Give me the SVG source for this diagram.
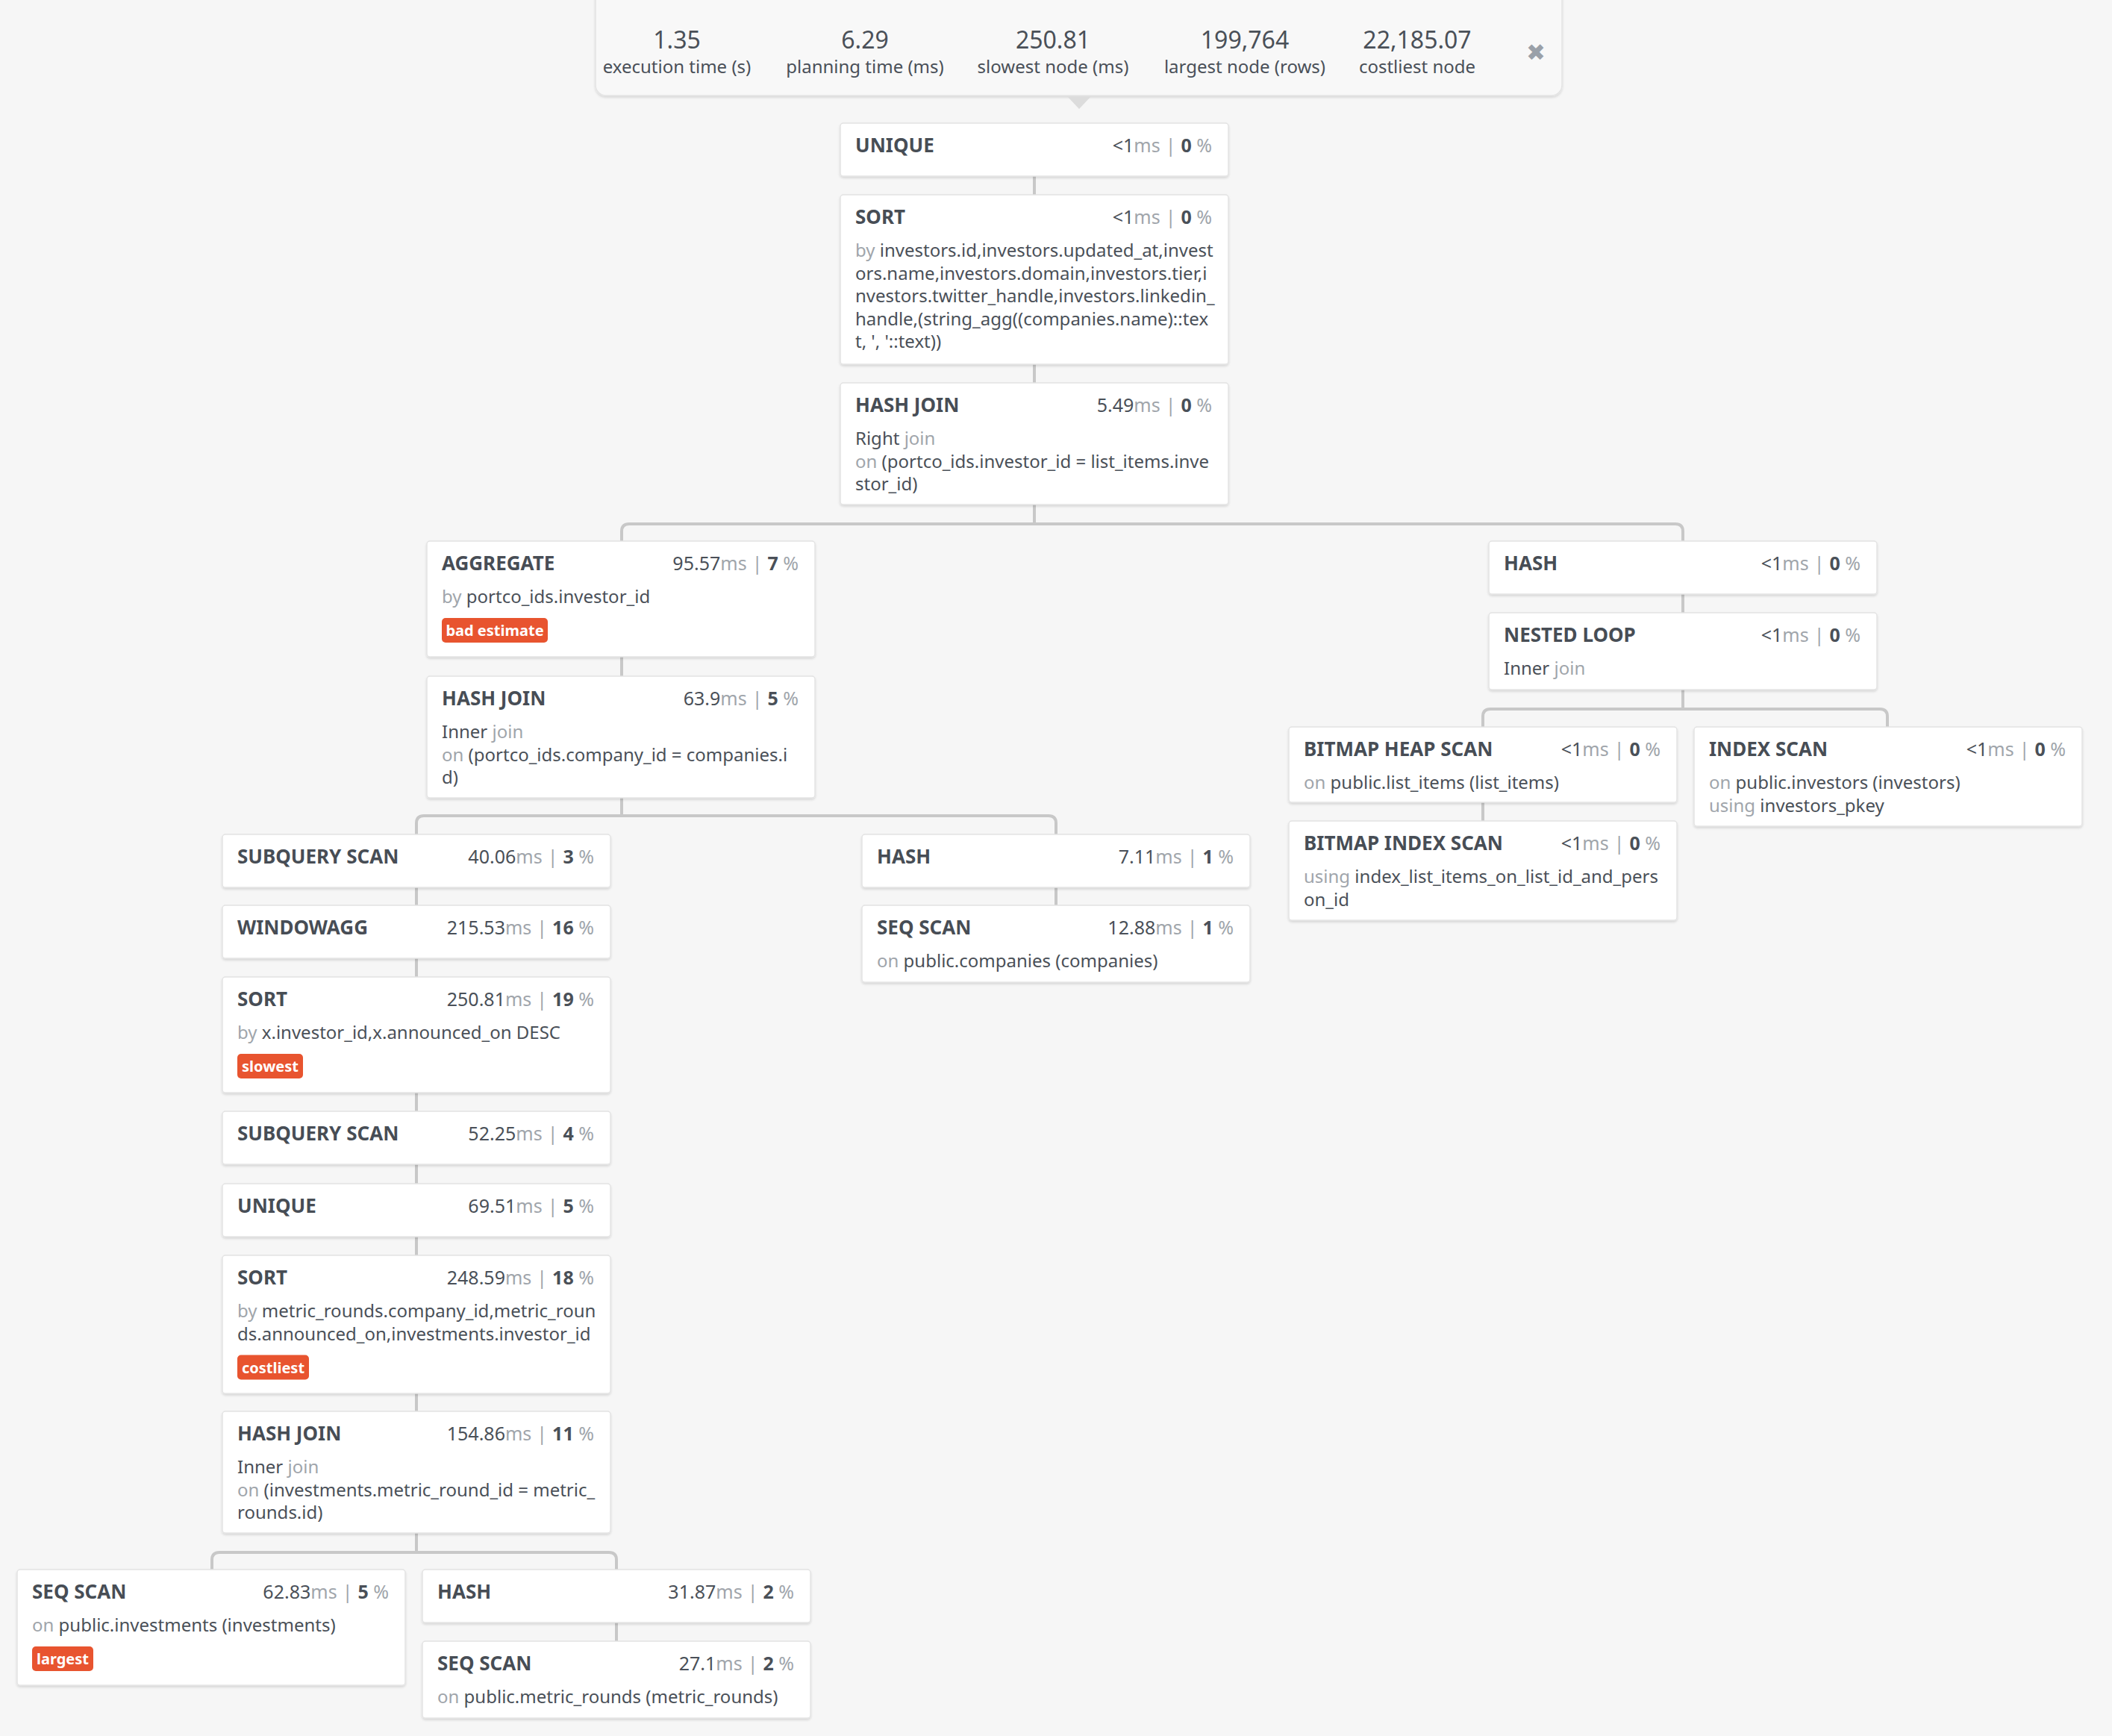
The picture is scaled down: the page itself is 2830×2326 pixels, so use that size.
<svg xmlns="http://www.w3.org/2000/svg" width="2830" height="2326" viewBox="0 0 2830 2326">
<defs>
<filter id="sh" x="-3%" y="-5%" width="106%" height="115%">
<feDropShadow dx="0" dy="2" stdDeviation="1.5" flood-color="#000" flood-opacity="0.13"/>
</filter>
<style>
.bx{fill:#fff;stroke:#e3e3e3;stroke-width:1.5;filter:url(#sh)}
.t{font-family:'Noto Sans',sans-serif;font-weight:bold;font-size:26px;fill:#474d55}
.d{font-family:'Noto Sans',sans-serif;font-size:24px;fill:#4a5058}
.s{font-family:'Noto Sans',sans-serif;font-size:25px;fill:#4a5058;text-anchor:end}
.g{fill:#a0a5ab}
.b{font-weight:bold}
.bg{fill:#e8542f}
.bt{font-family:'Noto Sans',sans-serif;font-weight:bold;font-size:20px;fill:#fff;text-anchor:middle}
.hn{font-family:'Noto Sans',sans-serif;font-size:32px;fill:#4a5058;text-anchor:middle}
.hl{font-family:'Noto Sans',sans-serif;font-size:24px;fill:#4a5058;text-anchor:middle}
.c{fill:none;stroke:#c8c8c8;stroke-width:4}
</style>
</defs>
<rect width="2830" height="2326" fill="#f6f6f6"/>

<g id="summary">
<rect x="798" y="-20" width="1295" height="148" rx="14" fill="#f8f8f8" stroke="#e4e4e4" stroke-width="1.5" filter="url(#sh)"/>
<polygon points="1430,129 1462,129 1446,146" fill="#dcdcdc"/>
<text class="hn" x="907" y="65">1.35</text>
<text class="hl" x="907" y="98">execution time (s)</text>
<text class="hn" x="1159" y="65">6.29</text>
<text class="hl" x="1159" y="98">planning time (ms)</text>
<text class="hn" x="1411" y="65">250.81</text>
<text class="hl" x="1411" y="98">slowest node (ms)</text>
<text class="hn" x="1668" y="65">199,764</text>
<text class="hl" x="1668" y="98">largest node (rows)</text>
<text class="hn" x="1899" y="65">22,185.07</text>
<text class="hl" x="1899" y="98">costliest node</text>
<text x="2058" y="81" font-family="'DejaVu Sans',sans-serif" font-size="31" fill="#9aa0a8" text-anchor="middle">✖</text>
</g>

<g id="connectors">
<path class="c" d="M1386,236V261M1386,488V513M1386,676V702"/>
<path class="c" d="M833,725V712Q833,702 843,702H2245Q2255,702 2255,712V725"/>
<path class="c" d="M833,880V906M833,1069V1093"/>
<path class="c" d="M558,1118V1103Q558,1093 568,1093H1405Q1415,1093 1415,1103V1118"/>
<path class="c" d="M558,1189V1213M558,1284V1309M558,1464V1489M558,1560V1586M558,1657V1682M558,1867V1891M558,2054V2080"/>
<path class="c" d="M284,2103V2090Q284,2080 294,2080H816Q826,2080 826,2090V2103"/>
<path class="c" d="M826,2174V2199"/>
<path class="c" d="M1415,1189V1213"/>
<path class="c" d="M2255,796V821M2255,924V950"/>
<path class="c" d="M1987,974V960Q1987,950 1997,950H2519Q2529,950 2529,960V974"/>
<path class="c" d="M1987,1075V1100"/>
</g>

<g id="n-unique-1" transform="translate(1126,165)">
<rect class="bx" width="520" height="71" rx="4"/>
<text class="t" x="20" y="39">UNIQUE</text>
<text class="s" x="498" y="39">&lt;1<tspan class="g">ms</tspan><tspan class="g" dx="7">|</tspan><tspan class="b" dx="7">0</tspan><tspan class="g"> %</tspan></text>
</g>

<g id="n-sort-1" transform="translate(1126,261)">
<rect class="bx" width="520" height="227" rx="4"/>
<text class="t" x="20" y="39">SORT</text>
<text class="s" x="498" y="39">&lt;1<tspan class="g">ms</tspan><tspan class="g" dx="7">|</tspan><tspan class="b" dx="7">0</tspan><tspan class="g"> %</tspan></text>
<text class="d" x="20" y="83"><tspan class="g">by</tspan> investors.id,investors.updated_at,invest</text>
<text class="d" x="20" y="113.5">ors.name,investors.domain,investors.tier,i</text>
<text class="d" x="20" y="144">nvestors.twitter_handle,investors.linkedin_</text>
<text class="d" x="20" y="174.5">handle,(string_agg((companies.name)::tex</text>
<text class="d" x="20" y="205">t, ', '::text))</text>
</g>

<g id="n-hashjoin-1" transform="translate(1126,513)">
<rect class="bx" width="520" height="163" rx="4"/>
<text class="t" x="20" y="39">HASH JOIN</text>
<text class="s" x="498" y="39">5.49<tspan class="g">ms</tspan><tspan class="g" dx="7">|</tspan><tspan class="b" dx="7">0</tspan><tspan class="g"> %</tspan></text>
<text class="d" x="20" y="83">Right <tspan class="g">join</tspan></text>
<text class="d" x="20" y="113.5"><tspan class="g">on</tspan> (portco_ids.investor_id = list_items.inve</text>
<text class="d" x="20" y="144">stor_id)</text>
</g>

<g id="n-aggregate" transform="translate(572,725)">
<rect class="bx" width="520" height="155" rx="4"/>
<text class="t" x="20" y="39">AGGREGATE</text>
<text class="s" x="498" y="39">95.57<tspan class="g">ms</tspan><tspan class="g" dx="7">|</tspan><tspan class="b" dx="7">7</tspan><tspan class="g"> %</tspan></text>
<text class="d" x="20" y="83"><tspan class="g">by</tspan> portco_ids.investor_id</text>
<rect class="bg" x="20" y="103" width="142" height="33" rx="5"/>
<text class="bt" x="91" y="127">bad estimate</text>
</g>

<g id="n-hashjoin-2" transform="translate(572,906)">
<rect class="bx" width="520" height="163" rx="4"/>
<text class="t" x="20" y="39">HASH JOIN</text>
<text class="s" x="498" y="39">63.9<tspan class="g">ms</tspan><tspan class="g" dx="7">|</tspan><tspan class="b" dx="7">5</tspan><tspan class="g"> %</tspan></text>
<text class="d" x="20" y="83">Inner <tspan class="g">join</tspan></text>
<text class="d" x="20" y="113.5"><tspan class="g">on</tspan> (portco_ids.company_id = companies.i</text>
<text class="d" x="20" y="144">d)</text>
</g>

<g id="n-subquery-1" transform="translate(298,1118)">
<rect class="bx" width="520" height="71" rx="4"/>
<text class="t" x="20" y="39">SUBQUERY SCAN</text>
<text class="s" x="498" y="39">40.06<tspan class="g">ms</tspan><tspan class="g" dx="7">|</tspan><tspan class="b" dx="7">3</tspan><tspan class="g"> %</tspan></text>
</g>

<g id="n-windowagg" transform="translate(298,1213)">
<rect class="bx" width="520" height="71" rx="4"/>
<text class="t" x="20" y="39">WINDOWAGG</text>
<text class="s" x="498" y="39">215.53<tspan class="g">ms</tspan><tspan class="g" dx="7">|</tspan><tspan class="b" dx="7">16</tspan><tspan class="g"> %</tspan></text>
</g>

<g id="n-sort-2" transform="translate(298,1309)">
<rect class="bx" width="520" height="155" rx="4"/>
<text class="t" x="20" y="39">SORT</text>
<text class="s" x="498" y="39">250.81<tspan class="g">ms</tspan><tspan class="g" dx="7">|</tspan><tspan class="b" dx="7">19</tspan><tspan class="g"> %</tspan></text>
<text class="d" x="20" y="83"><tspan class="g">by</tspan> x.investor_id,x.announced_on DESC</text>
<rect class="bg" x="20" y="103" width="88" height="33" rx="5"/>
<text class="bt" x="64" y="127">slowest</text>
</g>

<g id="n-subquery-2" transform="translate(298,1489)">
<rect class="bx" width="520" height="71" rx="4"/>
<text class="t" x="20" y="39">SUBQUERY SCAN</text>
<text class="s" x="498" y="39">52.25<tspan class="g">ms</tspan><tspan class="g" dx="7">|</tspan><tspan class="b" dx="7">4</tspan><tspan class="g"> %</tspan></text>
</g>

<g id="n-unique-2" transform="translate(298,1586)">
<rect class="bx" width="520" height="71" rx="4"/>
<text class="t" x="20" y="39">UNIQUE</text>
<text class="s" x="498" y="39">69.51<tspan class="g">ms</tspan><tspan class="g" dx="7">|</tspan><tspan class="b" dx="7">5</tspan><tspan class="g"> %</tspan></text>
</g>

<g id="n-sort-3" transform="translate(298,1682)">
<rect class="bx" width="520" height="185" rx="4"/>
<text class="t" x="20" y="39">SORT</text>
<text class="s" x="498" y="39">248.59<tspan class="g">ms</tspan><tspan class="g" dx="7">|</tspan><tspan class="b" dx="7">18</tspan><tspan class="g"> %</tspan></text>
<text class="d" x="20" y="83"><tspan class="g">by</tspan> metric_rounds.company_id,metric_roun</text>
<text class="d" x="20" y="113.5">ds.announced_on,investments.investor_id</text>
<rect class="bg" x="20" y="133.5" width="96" height="33" rx="5"/>
<text class="bt" x="68" y="157.5">costliest</text>
</g>

<g id="n-hashjoin-3" transform="translate(298,1891)">
<rect class="bx" width="520" height="163" rx="4"/>
<text class="t" x="20" y="39">HASH JOIN</text>
<text class="s" x="498" y="39">154.86<tspan class="g">ms</tspan><tspan class="g" dx="7">|</tspan><tspan class="b" dx="7">11</tspan><tspan class="g"> %</tspan></text>
<text class="d" x="20" y="83">Inner <tspan class="g">join</tspan></text>
<text class="d" x="20" y="113.5"><tspan class="g">on</tspan> (investments.metric_round_id = metric_</text>
<text class="d" x="20" y="144">rounds.id)</text>
</g>

<g id="n-seqscan-investments" transform="translate(23,2103)">
<rect class="bx" width="520" height="155" rx="4"/>
<text class="t" x="20" y="39">SEQ SCAN</text>
<text class="s" x="498" y="39">62.83<tspan class="g">ms</tspan><tspan class="g" dx="7">|</tspan><tspan class="b" dx="7">5</tspan><tspan class="g"> %</tspan></text>
<text class="d" x="20" y="83"><tspan class="g">on</tspan> public.investments (investments)</text>
<rect class="bg" x="20" y="103" width="82" height="33" rx="5"/>
<text class="bt" x="61" y="127">largest</text>
</g>

<g id="n-hash-metric" transform="translate(566,2103)">
<rect class="bx" width="520" height="71" rx="4"/>
<text class="t" x="20" y="39">HASH</text>
<text class="s" x="498" y="39">31.87<tspan class="g">ms</tspan><tspan class="g" dx="7">|</tspan><tspan class="b" dx="7">2</tspan><tspan class="g"> %</tspan></text>
</g>

<g id="n-seqscan-metric" transform="translate(566,2199)">
<rect class="bx" width="520" height="103" rx="4"/>
<text class="t" x="20" y="39">SEQ SCAN</text>
<text class="s" x="498" y="39">27.1<tspan class="g">ms</tspan><tspan class="g" dx="7">|</tspan><tspan class="b" dx="7">2</tspan><tspan class="g"> %</tspan></text>
<text class="d" x="20" y="83"><tspan class="g">on</tspan> public.metric_rounds (metric_rounds)</text>
</g>

<g id="n-hash-companies" transform="translate(1155,1118)">
<rect class="bx" width="520" height="71" rx="4"/>
<text class="t" x="20" y="39">HASH</text>
<text class="s" x="498" y="39">7.11<tspan class="g">ms</tspan><tspan class="g" dx="7">|</tspan><tspan class="b" dx="7">1</tspan><tspan class="g"> %</tspan></text>
</g>

<g id="n-seqscan-companies" transform="translate(1155,1213)">
<rect class="bx" width="520" height="103" rx="4"/>
<text class="t" x="20" y="39">SEQ SCAN</text>
<text class="s" x="498" y="39">12.88<tspan class="g">ms</tspan><tspan class="g" dx="7">|</tspan><tspan class="b" dx="7">1</tspan><tspan class="g"> %</tspan></text>
<text class="d" x="20" y="83"><tspan class="g">on</tspan> public.companies (companies)</text>
</g>

<g id="n-hash-right" transform="translate(1995,725)">
<rect class="bx" width="520" height="71" rx="4"/>
<text class="t" x="20" y="39">HASH</text>
<text class="s" x="498" y="39">&lt;1<tspan class="g">ms</tspan><tspan class="g" dx="7">|</tspan><tspan class="b" dx="7">0</tspan><tspan class="g"> %</tspan></text>
</g>

<g id="n-nestedloop" transform="translate(1995,821)">
<rect class="bx" width="520" height="103" rx="4"/>
<text class="t" x="20" y="39">NESTED LOOP</text>
<text class="s" x="498" y="39">&lt;1<tspan class="g">ms</tspan><tspan class="g" dx="7">|</tspan><tspan class="b" dx="7">0</tspan><tspan class="g"> %</tspan></text>
<text class="d" x="20" y="83">Inner <tspan class="g">join</tspan></text>
</g>

<g id="n-bitmapheap" transform="translate(1727,974)">
<rect class="bx" width="520" height="101" rx="4"/>
<text class="t" x="20" y="39">BITMAP HEAP SCAN</text>
<text class="s" x="498" y="39">&lt;1<tspan class="g">ms</tspan><tspan class="g" dx="7">|</tspan><tspan class="b" dx="7">0</tspan><tspan class="g"> %</tspan></text>
<text class="d" x="20" y="83"><tspan class="g">on</tspan> public.list_items (list_items)</text>
</g>

<g id="n-bitmapindex" transform="translate(1727,1100)">
<rect class="bx" width="520" height="133" rx="4"/>
<text class="t" x="20" y="39">BITMAP INDEX SCAN</text>
<text class="s" x="498" y="39">&lt;1<tspan class="g">ms</tspan><tspan class="g" dx="7">|</tspan><tspan class="b" dx="7">0</tspan><tspan class="g"> %</tspan></text>
<text class="d" x="20" y="83"><tspan class="g">using</tspan> index_list_items_on_list_id_and_pers</text>
<text class="d" x="20" y="113.5">on_id</text>
</g>

<g id="n-indexscan" transform="translate(2270,974)">
<rect class="bx" width="520" height="133" rx="4"/>
<text class="t" x="20" y="39">INDEX SCAN</text>
<text class="s" x="498" y="39">&lt;1<tspan class="g">ms</tspan><tspan class="g" dx="7">|</tspan><tspan class="b" dx="7">0</tspan><tspan class="g"> %</tspan></text>
<text class="d" x="20" y="83"><tspan class="g">on</tspan> public.investors (investors)</text>
<text class="d" x="20" y="113.5"><tspan class="g">using</tspan> investors_pkey</text>
</g>
</svg>
